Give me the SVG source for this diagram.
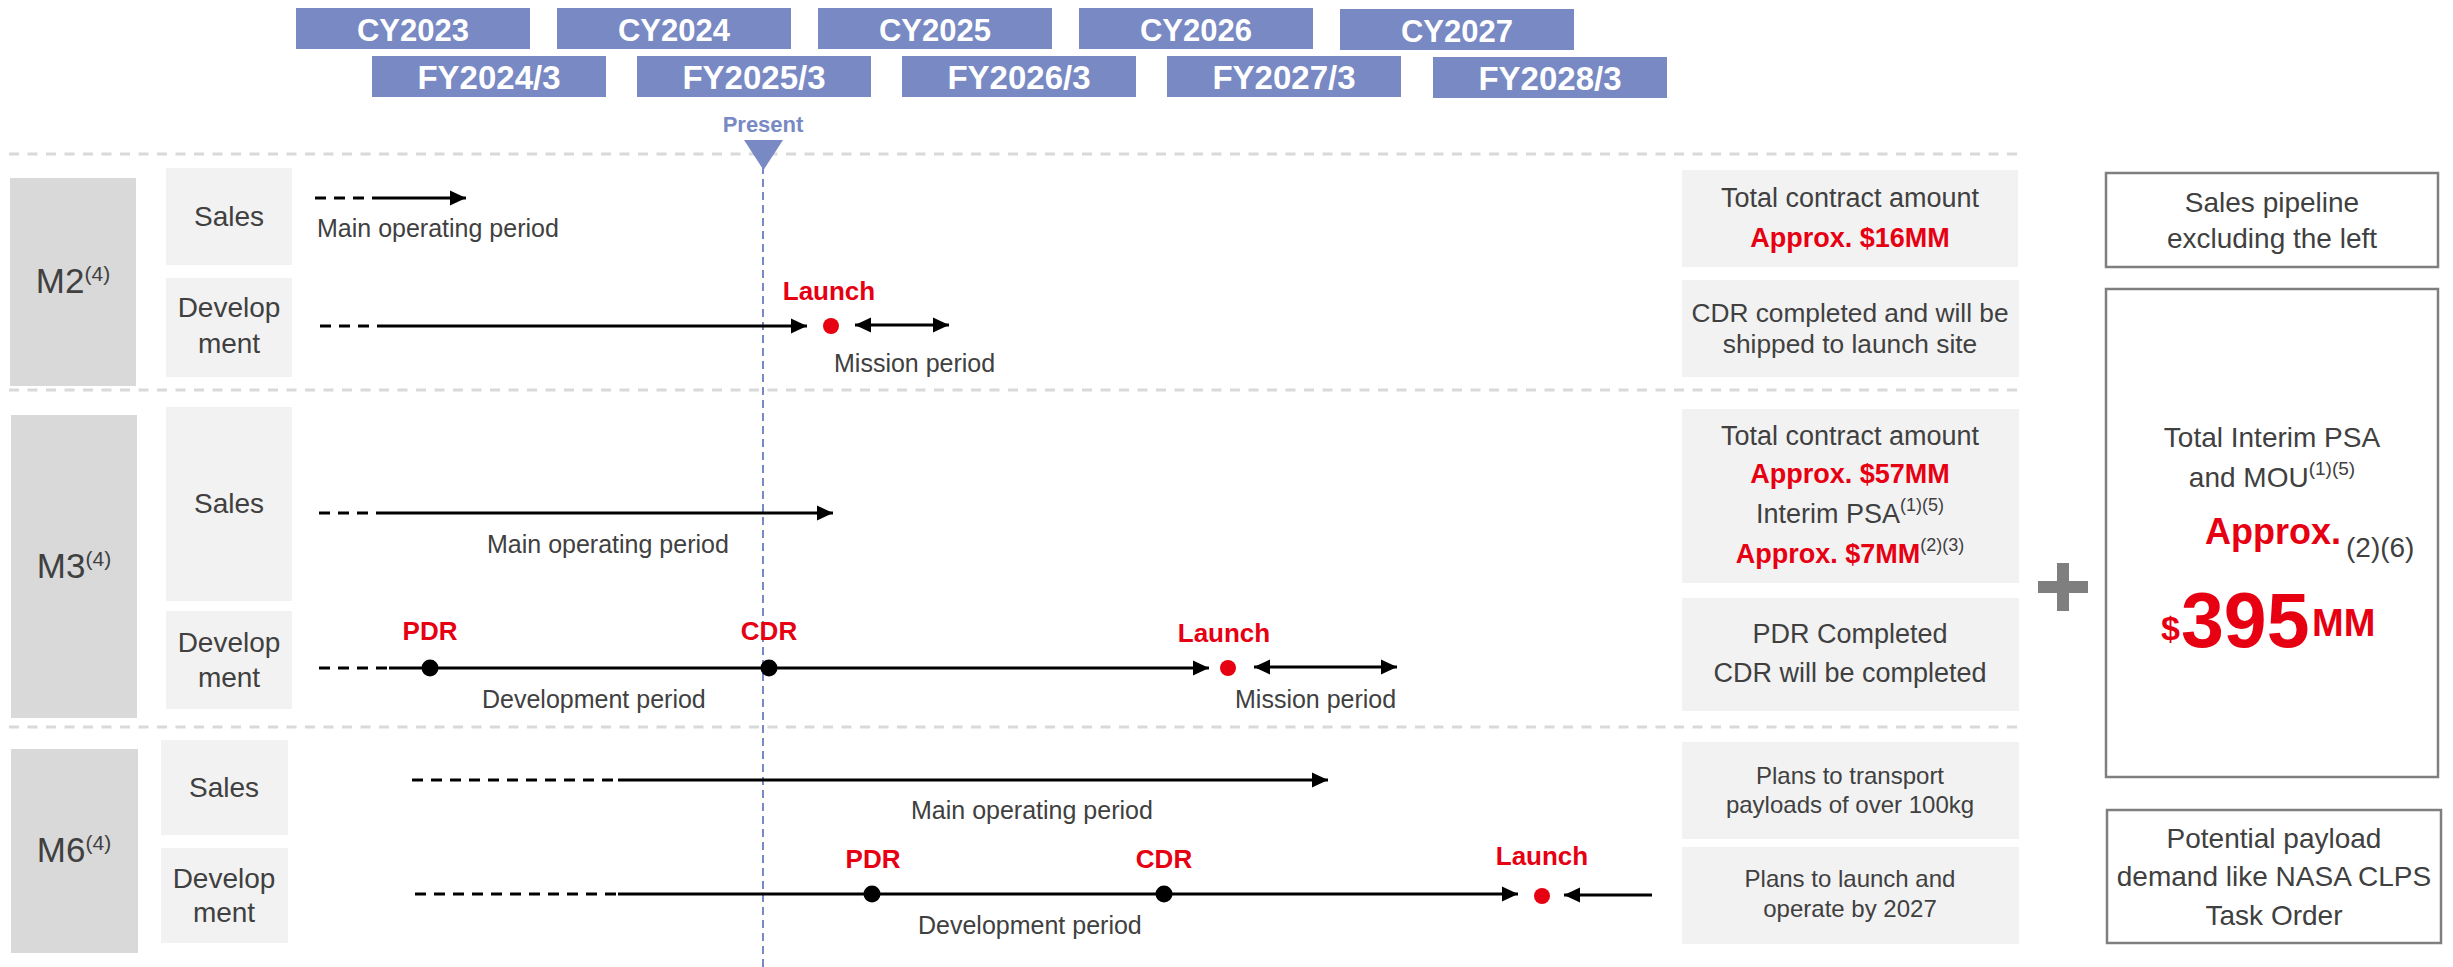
<svg xmlns="http://www.w3.org/2000/svg" width="2453" height="967" viewBox="0 0 2453 967">
<defs>
<style>
text{font-family:"Liberation Sans",Arial,sans-serif;fill:#404040}
.hdr{fill:#7889C4}
.ht{fill:#ffffff;font-weight:bold;text-anchor:middle}
.lab{fill:#D9D9D9}
.cell{fill:#F2F2F2}
.obox{fill:#ffffff;stroke:#7F7F7F;stroke-width:2.5}
.sep{stroke:#D9D9D9;stroke-width:3;stroke-dasharray:10 8.5;fill:none}
.now{stroke:#7889C4;stroke-width:2;stroke-dasharray:8 5;fill:none}
.sl{stroke:#000;stroke-width:3;fill:none}
.dl{stroke:#000;stroke-width:3;stroke-dasharray:11 8;fill:none}
.red{fill:#E60012;font-weight:bold}
.mid{text-anchor:middle}
.per{font-size:25px}
.rt{font-size:27px;text-anchor:middle}
.rs{font-size:24px;text-anchor:middle}
.ro{font-size:28px;text-anchor:middle}
.cat{font-size:28px;text-anchor:middle}
.m{font-size:35px;text-anchor:middle}
.ms{font-size:26px;font-weight:bold;fill:#E60012;text-anchor:middle}
</style>
<marker id="ah" markerWidth="16" markerHeight="16" refX="16" refY="8" orient="auto-start-reverse" markerUnits="userSpaceOnUse"><path d="M0,0.5 L16,8 L0,15.5 z" fill="#000"/></marker>
</defs>

<g id="header">
<rect class="hdr" x="296" y="8" width="234" height="41"/>
<rect class="hdr" x="557" y="8" width="234" height="41"/>
<rect class="hdr" x="818" y="8" width="234" height="41"/>
<rect class="hdr" x="1079" y="8" width="234" height="41"/>
<rect class="hdr" x="1340" y="9" width="234" height="41"/>
<text class="ht" x="413" y="41" font-size="31">CY2023</text>
<text class="ht" x="674" y="41" font-size="31">CY2024</text>
<text class="ht" x="935" y="41" font-size="31">CY2025</text>
<text class="ht" x="1196" y="41" font-size="31">CY2026</text>
<text class="ht" x="1457" y="42" font-size="31">CY2027</text>
<rect class="hdr" x="372" y="56" width="234" height="41"/>
<rect class="hdr" x="637" y="56" width="234" height="41"/>
<rect class="hdr" x="902" y="56" width="234" height="41"/>
<rect class="hdr" x="1167" y="56" width="234" height="41"/>
<rect class="hdr" x="1433" y="57" width="234" height="41"/>
<text class="ht" x="489" y="89" font-size="33">FY2024/3</text>
<text class="ht" x="754" y="89" font-size="33">FY2025/3</text>
<text class="ht" x="1019" y="89" font-size="33">FY2026/3</text>
<text class="ht" x="1284" y="89" font-size="33">FY2027/3</text>
<text class="ht" x="1550" y="90" font-size="33">FY2028/3</text>
</g>

<g id="separators">
<line class="sep" x1="9" y1="154" x2="2018" y2="154"/>
<line class="sep" x1="9" y1="390" x2="2018" y2="390"/>
<line class="sep" x1="9" y1="727" x2="2018" y2="727"/>
</g>

<g id="present">
<line class="now" x1="763" y1="166" x2="763" y2="967"/>
<path d="M744,140 L783,140 L763.5,170 z" fill="#7889C4"/>
<text x="763" y="132" font-size="22" font-weight="bold" text-anchor="middle" style="fill:#7889C4">Present</text>
</g>

<g id="m2">
<rect class="lab" x="10" y="178" width="126" height="208"/>
<text class="m" x="73" y="293">M2<tspan dy="-12" font-size="21">(4)</tspan></text>
<g id="m2-sales"><rect class="cell" x="166" y="168" width="126" height="97"/><text class="cat" x="229" y="226">Sales</text></g>
<g id="m2-dev"><rect class="cell" x="166" y="278" width="126" height="99"/><text class="cat" x="229" y="317">Develop</text><text class="cat" x="229" y="353">ment</text></g>
</g>

<g id="m3">
<rect class="lab" x="11" y="415" width="126" height="303"/>
<text class="m" x="74" y="578">M3<tspan dy="-12" font-size="21">(4)</tspan></text>
<g id="m3-sales"><rect class="cell" x="166" y="407" width="126" height="194"/><text class="cat" x="229" y="513">Sales</text></g>
<g id="m3-dev"><rect class="cell" x="166" y="611" width="126" height="98"/><text class="cat" x="229" y="652">Develop</text><text class="cat" x="229" y="687">ment</text></g>
</g>

<g id="m6">
<rect class="lab" x="11" y="749" width="127" height="204"/>
<text class="m" x="74" y="862">M6<tspan dy="-12" font-size="21">(4)</tspan></text>
<g id="m6-sales"><rect class="cell" x="161" y="740" width="127" height="95"/><text class="cat" x="224" y="797">Sales</text></g>
<g id="m6-dev"><rect class="cell" x="161" y="848" width="127" height="95"/><text class="cat" x="224" y="888">Develop</text><text class="cat" x="224" y="922">ment</text></g>
</g>

<g id="connectors">
<line class="dl" x1="315" y1="198" x2="376" y2="198"/>
<line class="sl" x1="376" y1="198" x2="466" y2="198" marker-end="url(#ah)"/>
<line class="dl" x1="320" y1="326" x2="383" y2="326"/>
<line class="sl" x1="383" y1="326" x2="807" y2="326" marker-end="url(#ah)"/>
<line class="sl" x1="855" y1="325" x2="949" y2="325" marker-start="url(#ah)" marker-end="url(#ah)"/>
<line class="dl" x1="319" y1="513" x2="383" y2="513"/>
<line class="sl" x1="383" y1="513" x2="833" y2="513" marker-end="url(#ah)"/>
<line class="dl" x1="319" y1="668" x2="389" y2="668"/>
<line class="sl" x1="389" y1="668" x2="1209" y2="668" marker-end="url(#ah)"/>
<line class="sl" x1="1254" y1="667" x2="1397" y2="667" marker-start="url(#ah)" marker-end="url(#ah)"/>
<line class="dl" x1="412" y1="780" x2="618" y2="780"/>
<line class="sl" x1="618" y1="780" x2="1328" y2="780" marker-end="url(#ah)"/>
<line class="dl" x1="415" y1="894" x2="618" y2="894"/>
<line class="sl" x1="618" y1="894" x2="1518" y2="894" marker-end="url(#ah)"/>
<line class="sl" x1="1652" y1="895" x2="1564" y2="895" marker-end="url(#ah)"/>
</g>

<g id="milestones">
<circle cx="831" cy="326" r="8" fill="#E60012"/>
<circle cx="1228" cy="668" r="8" fill="#E60012"/>
<circle cx="1542" cy="896" r="8" fill="#E60012"/>
<circle cx="430" cy="668" r="8.5" fill="#000"/>
<circle cx="769" cy="668" r="8.5" fill="#000"/>
<circle cx="872" cy="894" r="8.5" fill="#000"/>
<circle cx="1164" cy="894" r="8.5" fill="#000"/>
<text class="ms" x="829" y="300">Launch</text>
<text class="ms" x="1224" y="642">Launch</text>
<text class="ms" x="1542" y="865">Launch</text>
<text class="ms" x="430" y="640">PDR</text>
<text class="ms" x="769" y="640">CDR</text>
<text class="ms" x="873" y="868">PDR</text>
<text class="ms" x="1164" y="868">CDR</text>
</g>

<g id="period-labels">
<text class="per" x="317" y="237">Main operating period</text>
<text class="per" x="834" y="372">Mission period</text>
<text class="per" x="487" y="553">Main operating period</text>
<text class="per" x="482" y="708">Development period</text>
<text class="per" x="1235" y="708">Mission period</text>
<text class="per" x="911" y="819">Main operating period</text>
<text class="per" x="918" y="934">Development period</text>
</g>

<g id="note-m2-sales">
<rect class="cell" x="1682" y="170" width="336" height="97"/>
<text class="rt" x="1850" y="207">Total contract amount</text>
<text class="rt red" x="1850" y="247">Approx. $16MM</text>
</g>
<g id="note-m2-dev">
<rect class="cell" x="1682" y="280" width="337" height="97"/>
<text class="rt" x="1850" y="322" font-size="26.3" style="font-size:26.3px">CDR completed and will be</text>
<text class="rt" x="1850" y="353" style="font-size:26.3px">shipped to launch site</text>
</g>
<g id="note-m3-sales">
<rect class="cell" x="1682" y="409" width="337" height="174"/>
<text class="rt" x="1850" y="445">Total contract amount</text>
<text class="rt red" x="1850" y="483">Approx. $57MM</text>
<text class="rt" x="1850" y="523">Interim PSA<tspan dy="-12" font-size="18">(1)(5)</tspan></text>
<text class="rt red" x="1850" y="563">Approx. $7MM<tspan dy="-12" font-size="18" font-weight="normal" style="fill:#404040">(2)(3)</tspan></text>
</g>
<g id="note-m3-dev">
<rect class="cell" x="1682" y="598" width="337" height="113"/>
<text class="rt" x="1850" y="643">PDR Completed</text>
<text class="rt" x="1850" y="682">CDR will be completed</text>
</g>
<g id="note-m6-sales">
<rect class="cell" x="1682" y="742" width="337" height="97"/>
<text class="rs" x="1850" y="784">Plans to transport</text>
<text class="rs" x="1850" y="813">payloads of over 100kg</text>
</g>
<g id="note-m6-dev">
<rect class="cell" x="1682" y="847" width="337" height="97"/>
<text class="rs" x="1850" y="887">Plans to launch and</text>
<text class="rs" x="1850" y="917">operate by 2027</text>
</g>

<g id="plus">
<rect x="2038" y="581" width="50" height="12" fill="#7F7F7F"/>
<rect x="2057" y="563" width="12" height="48" fill="#7F7F7F"/>
</g>

<g id="pipeline-title">
<rect class="obox" x="2106" y="173" width="332" height="94"/>
<text class="ro" x="2272" y="212">Sales pipeline</text>
<text class="ro" x="2272" y="248">excluding the left</text>
</g>
<g id="pipeline-total">
<rect class="obox" x="2106" y="289" width="332" height="488"/>
<text class="ro" x="2272" y="447">Total Interim PSA</text>
<text class="ro" x="2272" y="487">and MOU<tspan dy="-12" font-size="19">(1)(5)</tspan></text>
<text x="2205" y="544" font-size="36" font-weight="bold" style="fill:#E60012">Approx.</text>
<text x="2346" y="557" font-size="28">(2)(6)</text>
<text font-weight="bold" style="fill:#E60012"><tspan x="2161" y="640" font-size="34">$</tspan><tspan x="2181" y="647" font-size="77">395</tspan><tspan x="2312" y="636" font-size="38">MM</tspan></text>
</g>
<g id="pipeline-potential">
<rect class="obox" x="2107" y="810" width="334" height="133"/>
<text class="ro" x="2274" y="848">Potential payload</text>
<text class="ro" x="2274" y="886">demand like NASA CLPS</text>
<text class="ro" x="2274" y="925">Task Order</text>
</g>
</svg>
